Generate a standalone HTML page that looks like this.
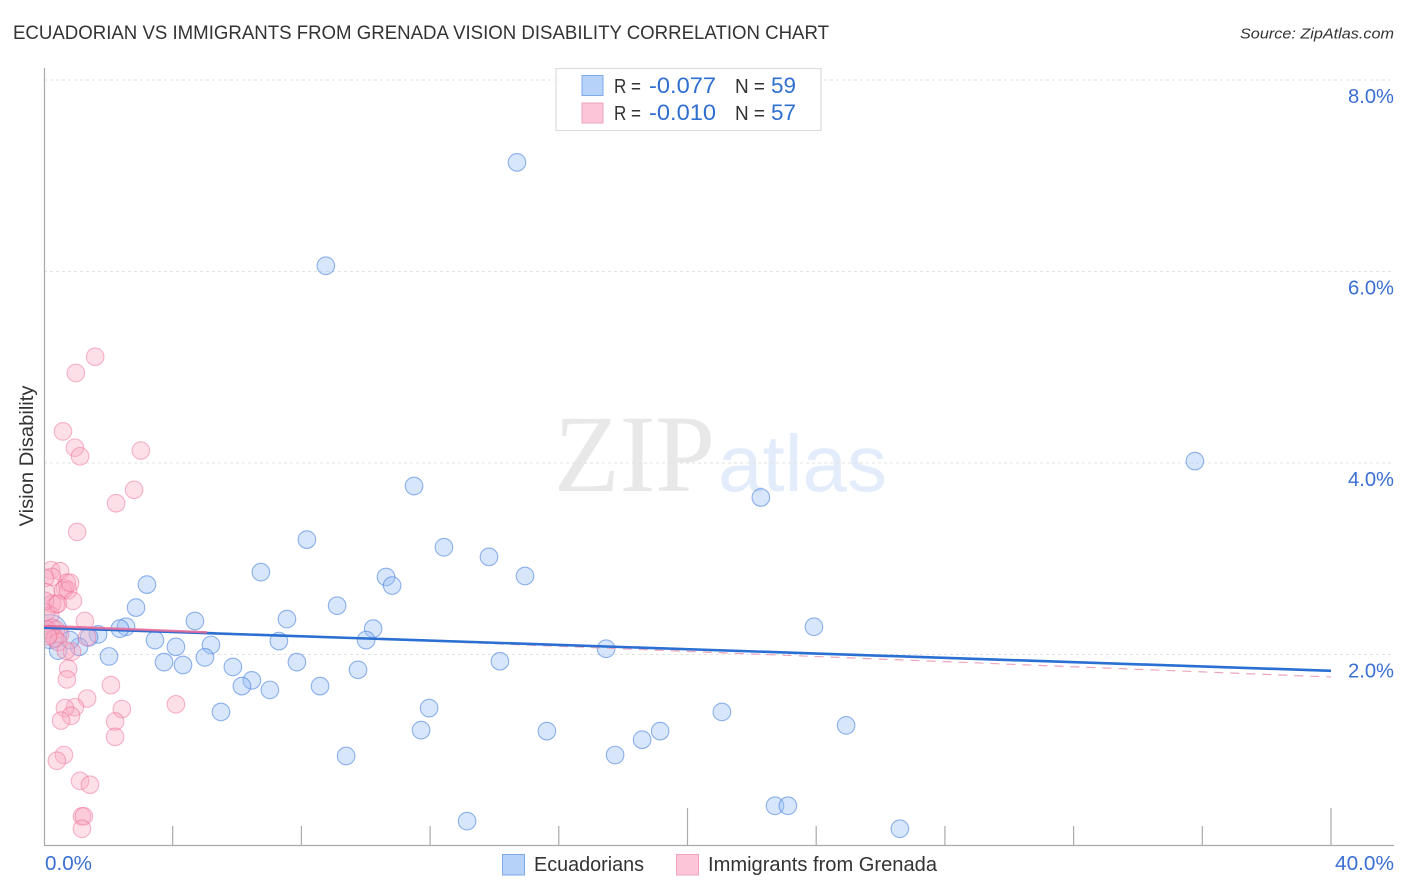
<!DOCTYPE html>
<html lang="en">
<head>
<meta charset="utf-8">
<title>Ecuadorian vs Immigrants from Grenada Vision Disability Correlation Chart</title>
<style>
html,body{margin:0;padding:0;background:#fff;}
svg{display:block;font-family:"Liberation Sans",sans-serif;}
</style>
</head>
<body>
<svg id="chart" xmlns="http://www.w3.org/2000/svg" width="1406" height="892" viewBox="0 0 1406 892">
  <defs>
    <clipPath id="plot-clip"><rect x="45" y="68" width="1349" height="778"/></clipPath>
  </defs>
  <text x="13" y="39" font-size="19" fill="#333" textLength="816" lengthAdjust="spacingAndGlyphs">ECUADORIAN VS IMMIGRANTS FROM GRENADA VISION DISABILITY CORRELATION CHART</text>
  <text x="1394" y="38.5" font-size="15" font-style="italic" fill="#333" text-anchor="end" textLength="154" lengthAdjust="spacingAndGlyphs">Source: ZipAtlas.com</text>

  <g>
    <text x="554" y="491" font-family="'Liberation Serif',serif" font-size="110" fill="#e8e8e8" textLength="161" lengthAdjust="spacingAndGlyphs">ZIP</text>
    <text x="718" y="491" font-size="80" fill="#e3ecfa" textLength="169" lengthAdjust="spacingAndGlyphs">atlas</text>
  </g>

  <g id="grid"></g>
  <g id="axes"></g>
  <g id="series-blue" clip-path="url(#plot-clip)"></g>
  <g id="series-pink" clip-path="url(#plot-clip)"></g>
  <g id="trends"></g>

  <text transform="translate(33,456) rotate(-90)" font-size="19" fill="#333" text-anchor="middle" textLength="141" lengthAdjust="spacingAndGlyphs">Vision Disability</text>

  <g>
    <rect x="556" y="68.5" width="265" height="62" fill="#fff" stroke="#dcdcdc" stroke-width="1.2"/>
    <rect x="582" y="75.500" width="21" height="20" fill="#b6d2f8" stroke="#7eaae8" stroke-width="1"/>
    <rect x="582" y="103" width="21" height="20" fill="#fdc6d8" stroke="#f0a3bc" stroke-width="1"/>
    <text x="614" y="93" font-size="20" fill="#333" textLength="27" lengthAdjust="spacingAndGlyphs">R =</text>
    <text x="649" y="93" font-size="22" fill="#2f6fd0" textLength="67" lengthAdjust="spacingAndGlyphs">-0.077</text>
    <text x="735" y="93" font-size="20" fill="#333" textLength="30" lengthAdjust="spacingAndGlyphs">N =</text>
    <text x="771" y="93" font-size="22" fill="#2f6fd0" textLength="25" lengthAdjust="spacingAndGlyphs">59</text>
    <text x="614" y="120" font-size="20" fill="#333" textLength="27" lengthAdjust="spacingAndGlyphs">R =</text>
    <text x="649" y="120" font-size="22" fill="#2f6fd0" textLength="67" lengthAdjust="spacingAndGlyphs">-0.010</text>
    <text x="735" y="120" font-size="20" fill="#333" textLength="30" lengthAdjust="spacingAndGlyphs">N =</text>
    <text x="771" y="120" font-size="22" fill="#2f6fd0" textLength="25" lengthAdjust="spacingAndGlyphs">57</text>
  </g>

  <g>
    <rect x="502.500" y="854.500" width="22" height="20.500" fill="#b6d2f8" stroke="#7eaae8" stroke-width="1"/>
    <text x="534" y="871" font-size="20" fill="#333" textLength="110" lengthAdjust="spacingAndGlyphs">Ecuadorians</text>
    <rect x="676.500" y="854.500" width="22" height="20.500" fill="#fdc6d8" stroke="#f0a3bc" stroke-width="1"/>
    <text x="708" y="871" font-size="20" fill="#333" textLength="229" lengthAdjust="spacingAndGlyphs">Immigrants from Grenada</text>
  </g>
</svg>
<script>
const yTickValues = [2, 4, 6, 8];
const yTickLabels = ["2.0%", "4.0%", "6.0%", "8.0%"];
const xTickValues = [0, 4, 8, 12, 16, 20, 24, 28, 32, 36, 40];
const xMajorTicks = [20, 40];
const xEndValues = [0, 40];
const xEndLabels = ["0.0%", "40.0%"];

const ecuadoriansX = [14.70,8.76,35.77,22.28,11.50,8.17,12.43,13.83,6.74,14.95,10.63,10.82,3.20,2.86,9.11,4.69,7.55,10.23,23.93,2.55,2.36,1.68,1.40,3.45,7.30,10.01,4.10,5.19,17.47,1.09,0.44,2.02,5.00,3.73,4.32,7.86,14.17,5.87,9.76,6.46,6.15,7.02,8.58,5.50,11.97,21.07,11.72,15.63,19.15,24.93,18.59,17.75,9.39,13.15,22.72,23.12,26.60,0.81];
const ecuadoriansY = [7.14,6.06,4.02,3.64,3.76,3.20,3.12,3.02,2.86,2.82,2.81,2.72,2.73,2.49,2.51,2.35,2.37,2.27,2.29,2.29,2.27,2.21,2.18,2.15,2.14,2.15,2.08,2.10,2.06,2.08,2.04,1.98,1.97,1.92,1.89,1.92,1.93,1.87,1.84,1.73,1.67,1.63,1.67,1.40,1.44,1.40,1.21,1.20,1.20,1.26,1.11,0.95,0.94,0.26,0.42,0.42,0.18,2.15];
const ecuadoriansLargeX = [0.19];
const ecuadoriansLargeY = [2.24];

const grenadaX = [1.59,0.99,0.59,0.96,1.12,3.01,2.80,2.24,1.03,0.22,0.50,0.25,0.03,0.71,0.65,0.59,0.75,0.06,0.90,0.37,0.25,0.06,0.19,1.27,0.25,0.37,0.09,0.19,0.50,0.34,0.44,0.12,1.34,0.87,0.68,0.75,0.71,2.08,1.34,0.96,0.65,0.84,0.53,2.42,2.21,2.21,4.10,0.62,0.40,1.12,1.43,1.18,1.24,1.18,0.03,0.43,0.81];
const grenadaY = [5.11,4.94,4.33,4.16,4.07,4.13,3.72,3.58,3.28,2.88,2.87,2.81,2.80,2.75,2.69,2.67,2.67,2.65,2.56,2.52,2.53,2.44,2.41,2.35,2.28,2.26,2.26,2.21,2.21,2.17,2.13,2.19,2.18,2.03,2.04,1.85,1.74,1.68,1.54,1.45,1.44,1.36,1.31,1.43,1.30,1.14,1.48,0.95,0.89,0.68,0.64,0.31,0.31,0.18,2.56,2.53,2.75];

const ecuadoriansTrendX = [0, 40];
const ecuadoriansTrendY = [2.28, 1.83];
const grenadaTrendSolidX = [0, 5.07];
const grenadaTrendSolidY = [2.30, 2.232];
const grenadaTrendDashX = [5.07, 40];
const grenadaTrendDashY = [2.232, 1.765];

const X0 = 44, XK = 32.175, Y0 = 846, YK = 95.75;
function sx(v) { return X0 + v * XK; }
function sy(v) { return Y0 - v * YK; }
const NS = 'http://www.w3.org/2000/svg';
function mk(parent, tag, attrs, text) {
  const el = document.createElementNS(NS, tag);
  for (const k in attrs) el.setAttribute(k, attrs[k]);
  if (text !== undefined) el.textContent = text;
  parent.appendChild(el);
  return el;
}

const grid = document.getElementById('grid');
const axes = document.getElementById('axes');
yTickValues.forEach(function (v, i) {
  const line = mk(grid, 'line', { x1: 44, x2: 1394, y1: sy(v), y2: sy(v), stroke: '#e2e2e2', 'stroke-width': 1, 'stroke-dasharray': '3 3' });
  
  
  const label = mk(axes, 'text', { x: 1394, y: sy(v) + 23, 'font-size': 20, fill: '#3a6fd3', 'text-anchor': 'end', textLength: 46, lengthAdjust: 'spacingAndGlyphs' }, yTickLabels[i]);
  
  
});

const yAxis = mk(axes, 'line', { x1: 44.5, x2: 44.5, y1: 68, y2: 846, stroke: '#aaa', 'stroke-width': 1.2 });


const xAxis = mk(axes, 'line', { x1: 44, x2: 1394, y1: 845.5, y2: 845.5, stroke: '#aaa', 'stroke-width': 1.2 });



xTickValues.forEach(function (v) {
  if (v === 0) return;
  const top = xMajorTicks.indexOf(v) >= 0 ? 808 : 826;
  const tick = mk(axes, 'line', { x1: sx(v), x2: sx(v), y1: top, y2: 846, stroke: '#aaa', 'stroke-width': 1.2 });
  
  
});
xEndValues.forEach(function (v, i) {
  const isFirst = i === 0;
  const label = mk(axes, 'text', { x: isFirst ? 45 : 1394, y: 870, 'font-size': 20, fill: '#3a6fd3', 'text-anchor': isFirst ? 'start' : 'end', textLength: isFirst ? 47 : 59, lengthAdjust: 'spacingAndGlyphs' }, xEndLabels[i]);
  
  
});

const blueG = document.getElementById('series-blue');
const pinkG = document.getElementById('series-pink');
ecuadoriansLargeX.forEach(function (v, i) {
  const c = mk(blueG, 'circle', { cx: sx(v), cy: sy(ecuadoriansLargeY[i]), r: 17, fill: 'rgba(150,190,245,0.4)', stroke: 'rgba(60,120,220,0.5)', 'stroke-width': 1.2 });
  
  
});
ecuadoriansX.forEach(function (v, i) {
  const c = mk(blueG, 'circle', { cx: sx(v), cy: sy(ecuadoriansY[i]), r: 8.8, fill: 'rgba(150,190,245,0.38)', stroke: 'rgba(60,120,220,0.55)', 'stroke-width': 1.1 });
  
  
});
grenadaX.forEach(function (v, i) {
  const c = mk(pinkG, 'circle', { cx: sx(v), cy: sy(grenadaY[i]), r: 8.8, fill: 'rgba(250,170,195,0.38)', stroke: 'rgba(235,100,145,0.45)', 'stroke-width': 1.1 });
  
  
});

const trends = document.getElementById('trends');
const pinkDash = mk(trends, 'line', { x1: sx(grenadaTrendDashX[0]), y1: sy(grenadaTrendDashY[0]), x2: sx(grenadaTrendDashX[1]), y2: sy(grenadaTrendDashY[1]), stroke: '#eba6bd', 'stroke-width': 1.2, 'stroke-dasharray': '9 7' });


const blueTrend = mk(trends, 'line', { x1: sx(ecuadoriansTrendX[0]), y1: sy(ecuadoriansTrendY[0]), x2: sx(ecuadoriansTrendX[1]), y2: sy(ecuadoriansTrendY[1]), stroke: '#2a6fd2', 'stroke-width': 2.6 });


const pinkSolid = mk(trends, 'line', { x1: sx(grenadaTrendSolidX[0]), y1: sy(grenadaTrendSolidY[0]), x2: sx(grenadaTrendSolidX[1]), y2: sy(grenadaTrendSolidY[1]), stroke: '#ea6a98', 'stroke-width': 2.4, 'stroke-opacity': 0.85 });


</script>
</body>
</html>
